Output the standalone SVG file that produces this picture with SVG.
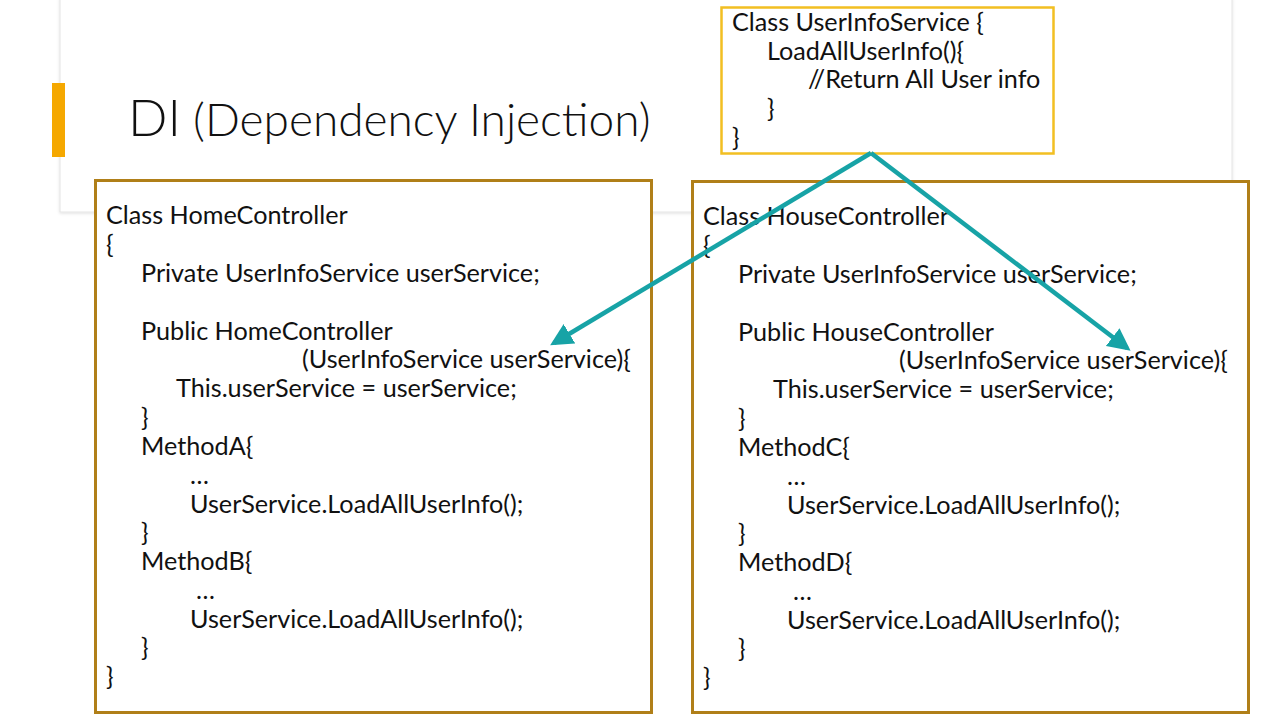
<svg xmlns="http://www.w3.org/2000/svg" width="1280" height="720" viewBox="0 0 1280 720">
<defs>
<filter id="sh" x="-5%" y="-5%" width="110%" height="115%">
<feDropShadow dx="0" dy="1" stdDeviation="1.5" flood-color="#000" flood-opacity="0.12"/>
</filter>
<marker id="ah" viewBox="0 0 10 10" refX="8" refY="5" markerWidth="5" markerHeight="5" orient="auto" markerUnits="strokeWidth">
<path d="M0,0 L10,5 L0,10 z" fill="#17a3a6"/>
</marker>
<style>
.code{font-family:Lato,"Open Sans","Liberation Sans",sans-serif;font-weight:400;font-size:25.2px;fill:#111}
.box{fill:#fff;stroke:#b07f18;stroke-width:3}
.svc{fill:#fff;stroke:#f2bf22;stroke-width:2.5}
.conn{stroke:#17a3a6;stroke-width:4.5;fill:none}
.title{font-family:Lato,"Open Sans","Liberation Sans",sans-serif;font-weight:300;fill:#111}
</style>
</defs>
<rect width="1280" height="720" fill="#fff"/>
<rect x="60" y="-2" width="1172" height="214" fill="#fff" stroke="#e4e4e4" stroke-width="1" filter="url(#sh)"/>
<rect x="52" y="83" width="13" height="74" fill="#f5a800"/>
<text class="title" x="128" y="136"><tspan font-size="52">DI</tspan><tspan font-size="46" dx="12">(Dependency Injection)</tspan></text>

<g id="home">
<rect class="box" x="95.5" y="180.5" width="556" height="532"/>
<text class="code">
<tspan x="106" y="224">Class HomeController</tspan>
<tspan x="106" y="253">{</tspan>
<tspan x="141" y="282">Private UserInfoService userService;</tspan>
<tspan x="141" y="340">Public HomeController</tspan>
<tspan x="302" y="368">(UserInfoService userService){</tspan>
<tspan x="176" y="397">This.userService = userService;</tspan>
<tspan x="141" y="426">}</tspan>
<tspan x="141" y="455">MethodA{</tspan>
<tspan x="190" y="484">…</tspan>
<tspan x="190" y="513">UserService.LoadAllUserInfo();</tspan>
<tspan x="141" y="541">}</tspan>
<tspan x="141" y="570">MethodB{</tspan>
<tspan x="196" y="599">…</tspan>
<tspan x="190" y="628">UserService.LoadAllUserInfo();</tspan>
<tspan x="141" y="656">}</tspan>
<tspan x="106" y="685">}</tspan>
</text>
</g>

<g id="house">
<rect class="box" x="692.5" y="181.5" width="556" height="531"/>
<text class="code">
<tspan x="703" y="225">Class HouseController</tspan>
<tspan x="703" y="254">{</tspan>
<tspan x="738" y="283">Private UserInfoService userService;</tspan>
<tspan x="738" y="341">Public HouseController</tspan>
<tspan x="899" y="369">(UserInfoService userService){</tspan>
<tspan x="773" y="398">This.userService = userService;</tspan>
<tspan x="738" y="427">}</tspan>
<tspan x="738" y="456">MethodC{</tspan>
<tspan x="787" y="485">…</tspan>
<tspan x="787" y="514">UserService.LoadAllUserInfo();</tspan>
<tspan x="738" y="542">}</tspan>
<tspan x="738" y="571">MethodD{</tspan>
<tspan x="793" y="600">…</tspan>
<tspan x="787" y="629">UserService.LoadAllUserInfo();</tspan>
<tspan x="738" y="657">}</tspan>
<tspan x="703" y="686">}</tspan>
</text>
</g>

<g id="service">
<rect class="svc" x="721.5" y="7.5" width="332" height="146"/>
<text class="code">
<tspan x="732" y="31">Class UserInfoService {</tspan>
<tspan x="767" y="60">LoadAllUserInfo(){</tspan>
<tspan x="808" y="88">//Return All User info</tspan>
<tspan x="767" y="117">}</tspan>
<tspan x="732" y="146">}</tspan>
</text>
</g>

<g id="connectors">
<path class="conn" d="M871,153 L554,343" marker-end="url(#ah)"/>
<path class="conn" d="M871,153 L1127,348" marker-end="url(#ah)"/>
</g>
</svg>
